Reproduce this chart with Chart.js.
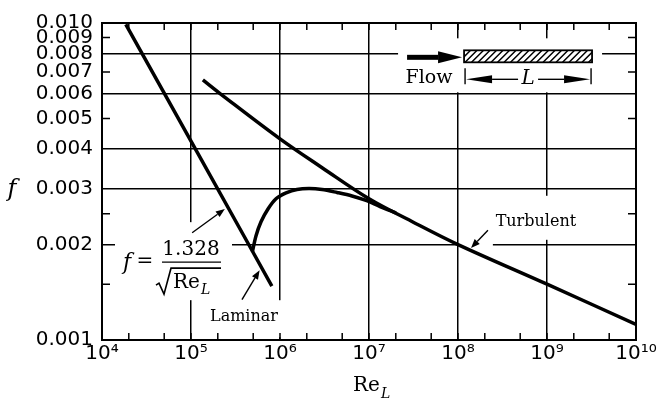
<!DOCTYPE html>
<html>
<head>
<meta charset="utf-8">
<script src="https://cdn.jsdelivr.net/npm/chart.js@4.4.0/dist/chart.umd.min.js"></script>
<style>
  html, body { margin: 0; padding: 0; background: #fff; }
  #wrap { width: 659px; height: 402px; }
</style>
</head>
<body>
<div id="wrap"><canvas id="chart" width="659" height="402"></canvas></div>
<script>
// --- Curves (Re_L, f) ---
const laminarRe = [1.85e4, 1e5, 4.5e5, 8.1e5];
const laminarF  = [0.0099, 0.00424, 0.00199, 0.00148];

const turbRe = [1.36e5, 2.12e5, 1e6, 3e6, 1e7, 3e7, 1e8, 1e9, 1e10];
const turbF  = [0.00661, 0.00599, 0.00431, 0.00349, 0.00279, 0.00237, 0.0020, 0.0015, 0.00112];

const transRe = [4.9e5, 5.37e5, 6.12e5, 7.33e5, 9.02e5, 1.17e6, 1.55e6, 2.12e6, 2.97e6, 4.37e6, 6.44e6, 9.25e6, 1.33e7, 2.01e7];
const transF  = [0.0019, 0.00213, 0.00236, 0.00259, 0.00279, 0.00291, 0.002985, 0.003006, 0.002985, 0.00292, 0.002847, 0.002755, 0.002637, 0.00252];

// --- Axes ---
const xTickValues = [1e4, 1e5, 1e6, 1e7, 1e8, 1e9, 1e10];
const xTickLabels = ['10\u2074', '10\u2075', '10\u2076', '10\u2077', '10\u2078', '10\u2079', '10\u00b9\u2070'];
const xMinorTicks = [2e4, 5e4, 2e5, 5e5, 2e6, 5e6, 2e7, 5e7, 2e8, 5e8, 2e9, 5e9];

const yTickValues = [0.001, 0.002, 0.003, 0.004, 0.005, 0.006, 0.007, 0.008, 0.009, 0.010];
const yTickLabels = ['0.001', '0.002', '0.003', '0.004', '0.005', '0.006', '0.007', '0.008', '0.009', '0.010'];
const yGridValues = [0.002, 0.003, 0.004, 0.006, 0.008, 0.010];
const yMinorTicks = [0.0015, 0.0025, 0.005, 0.007, 0.009];

// --- Annotation anchors (data units) ---
const formulaAt      = [1e5, 0.00176];
const laminarLabelAt = [3.94e5, 0.00118];
const turbLabelAt    = [7.5e8, 0.00236];
const plateAt        = [1.17e8, 0.0082];
const formulaArrow   = [[1.03e5, 0.00218], [2.4e5, 0.00259]];
const laminarArrow   = [[3.74e5, 0.00134], [5.9e5, 0.00166]];
const turbArrow      = [[2.17e8, 0.00222], [1.4e8, 0.00195]];

const serif = '"DejaVu Serif", serif';

function pts(xs, ys) {
  return xs.map((x, i) => ({ x: x, y: ys[i] }));
}

function P(chart, p) {
  return [chart.scales.x.getPixelForValue(p[0]), chart.scales.y.getPixelForValue(p[1])];
}

function arrow(ctx, tail, tip, len, half) {
  const a = Math.atan2(tip[1] - tail[1], tip[0] - tail[0]);
  const bx = tip[0] - len * Math.cos(a), by = tip[1] - len * Math.sin(a);
  ctx.beginPath();
  ctx.moveTo(tail[0], tail[1]);
  ctx.lineTo(bx, by);
  ctx.stroke();
  ctx.beginPath();
  ctx.moveTo(tip[0], tip[1]);
  ctx.lineTo(bx + half * Math.sin(a), by - half * Math.cos(a));
  ctx.lineTo(bx - half * Math.sin(a), by + half * Math.cos(a));
  ctx.closePath();
  ctx.fill();
}

// "Re" with an italic subscript L, starting at x
function reSubL(ctx, x, y, size, subSize, drop) {
  ctx.textAlign = 'left';
  ctx.textBaseline = 'alphabetic';
  ctx.font = size + 'px ' + serif;
  ctx.fillText('Re', x, y);
  const w = ctx.measureText('Re').width;
  ctx.font = 'italic ' + subSize + 'px ' + serif;
  ctx.fillText('L', x + w + 1, y + drop);
  return w + 1 + ctx.measureText('L').width;
}

// white patches the labels sit on (they hide the grid, not the curves)
function whiteBoxes(chart) {
  const f = P(chart, formulaAt), l = P(chart, laminarLabelAt);
  const t = P(chart, turbLabelAt), p = P(chart, plateAt);
  return [
    [f[0] - 76, f[1] - 40, f[0] + 41, f[1] + 38],
    [l[0] - 39, l[1] - 17, l[0] + 41, Math.min(l[1] + 20, chart.chartArea.bottom - 2)],
    [t[0] - 46, t[1] - 26, t[0] + 54, t[1] + 18],
    [t[0] - 75, t[1] + 14, t[0] - 43, t[1] + 30],
    [p[0] - 66, p[1] - 12, p[0] + 138, p[1] + 42]
  ];
}

const decor = {
  id: 'decor',
  beforeDatasetsDraw(chart) {
    const ctx = chart.ctx;
    ctx.save();
    ctx.fillStyle = '#fff';
    whiteBoxes(chart).forEach(b => ctx.fillRect(b[0], b[1], b[2] - b[0], b[3] - b[1]));
    ctx.restore();
  },
  afterDatasetsDraw(chart) {
    const ctx = chart.ctx;
    const area = chart.chartArea;
    const xs = chart.scales.x, ys = chart.scales.y;
    ctx.save();
    ctx.strokeStyle = '#000';
    ctx.fillStyle = '#000';

    // frame
    ctx.lineWidth = 2;
    ctx.strokeRect(area.left, area.top, area.right - area.left, area.bottom - area.top);

    // inward minor ticks
    ctx.lineWidth = 1.5;
    ctx.beginPath();
    xMinorTicks.concat(xTickValues).forEach(v => {
      const x = xs.getPixelForValue(v);
      ctx.moveTo(x, area.bottom); ctx.lineTo(x, area.bottom - 7);
      ctx.moveTo(x, area.top); ctx.lineTo(x, area.top + 7);
    });
    yMinorTicks.forEach(v => {
      const y = ys.getPixelForValue(v);
      ctx.moveTo(area.left, y); ctx.lineTo(area.left + 8, y);
      ctx.moveTo(area.right, y); ctx.lineTo(area.right - 8, y);
    });
    ctx.stroke();

    // formula f = 1.328 / sqrt(Re_L)
    const f = P(chart, formulaAt);
    ctx.textBaseline = 'middle';
    ctx.textAlign = 'center';
    ctx.font = 'italic 22px ' + serif;
    ctx.fillText('f', f[0] - 64, f[1] + 1);
    ctx.font = '20px ' + serif;
    ctx.fillText('=', f[0] - 46, f[1]);
    ctx.textBaseline = 'alphabetic';
    ctx.fillText('1.328', f[0], f[1] - 7);
    ctx.lineWidth = 1.4;
    ctx.beginPath();
    ctx.moveTo(f[0] - 29, f[1]); ctx.lineTo(f[0] + 30, f[1]);
    ctx.stroke();
    ctx.lineWidth = 1.6;
    ctx.beginPath();
    ctx.moveTo(f[0] - 35, f[1] + 23);
    ctx.lineTo(f[0] - 32, f[1] + 21);
    ctx.lineTo(f[0] - 27, f[1] + 32);
    ctx.lineTo(f[0] - 20, f[1] + 6);
    ctx.lineTo(f[0] + 30, f[1] + 6);
    ctx.stroke();
    reSubL(ctx, f[0] - 18, f[1] + 26, 20, 14, 6);

    // arrows to curves
    ctx.lineWidth = 1.4;
    [formulaArrow, laminarArrow, turbArrow].forEach(a => {
      arrow(ctx, P(chart, a[0]), P(chart, a[1]), 9, 3.5);
    });

    // labels
    ctx.textAlign = 'center';
    ctx.textBaseline = 'middle';
    ctx.font = '16px ' + serif;
    const l = P(chart, laminarLabelAt);
    ctx.fillText('Laminar', l[0], l[1]);
    const t = P(chart, turbLabelAt);
    ctx.fillText('Turbulent', t[0], t[1]);

    // flow sketch: arrow, hatched plate, length L
    const p = P(chart, plateAt);
    const pw = 128, ph = 12;
    ctx.lineWidth = 5;
    arrow(ctx, [p[0] - 57, p[1] + 7], [p[0] - 2, p[1] + 7], 24, 6);
    ctx.save();
    ctx.beginPath();
    ctx.rect(p[0], p[1], pw, ph);
    ctx.clip();
    ctx.lineWidth = 1.5;
    ctx.beginPath();
    for (let k = -ph; k < pw + ph; k += 6.5) {
      ctx.moveTo(p[0] + k, p[1] + ph);
      ctx.lineTo(p[0] + k + ph, p[1]);
    }
    ctx.stroke();
    ctx.restore();
    ctx.lineWidth = 1.8;
    ctx.strokeRect(p[0], p[1], pw, ph);
    ctx.lineWidth = 1.4;
    ctx.beginPath();
    ctx.moveTo(p[0] + 1, p[1] + 18); ctx.lineTo(p[0] + 1, p[1] + 34);
    ctx.moveTo(p[0] + pw - 1, p[1] + 18); ctx.lineTo(p[0] + pw - 1, p[1] + 34);
    ctx.stroke();
    arrow(ctx, [p[0] + 54, p[1] + 29], [p[0] + 2, p[1] + 29], 26, 4);
    arrow(ctx, [p[0] + 74, p[1] + 29], [p[0] + pw - 2, p[1] + 29], 26, 4);
    ctx.font = 'italic 20px ' + serif;
    ctx.fillText('L', p[0] + 64, p[1] + 28);
    ctx.font = '19px ' + serif;
    ctx.fillText('Flow', p[0] - 35, p[1] + 28);
    ctx.restore();
  },
  afterDraw(chart) {
    const ctx = chart.ctx;
    const area = chart.chartArea;
    ctx.save();
    ctx.fillStyle = '#000';
    ctx.textBaseline = 'alphabetic';
    ctx.textAlign = 'center';
    ctx.font = 'italic 24px ' + serif;
    ctx.fillText('f', area.left - 90, 196);
    const cx = (area.left + area.right) / 2;
    reSubL(ctx, cx - 16, 391, 20, 14, 7);
    ctx.restore();
  }
};

const lineStyle = {
  borderColor: '#000',
  borderWidth: 3.5,
  pointRadius: 0,
  fill: false,
  showLine: true,
  borderCapStyle: 'butt',
  borderJoinStyle: 'round'
};

new Chart(document.getElementById('chart'), {
  type: 'scatter',
  data: {
    datasets: [
      Object.assign({ label: 'Laminar', data: pts(laminarRe, laminarF), tension: 0 }, lineStyle),
      Object.assign({ label: 'Turbulent', data: pts(turbRe, turbF), tension: 0.35 }, lineStyle),
      Object.assign({ label: 'Transition', data: pts(transRe, transF), tension: 0.3 }, lineStyle)
    ]
  },
  options: {
    responsive: false,
    devicePixelRatio: 1,
    animation: false,
    layout: { padding: { left: 0, right: 23, top: 23, bottom: 0 } },
    plugins: { legend: { display: false }, tooltip: { enabled: false } },
    scales: {
      x: {
        type: 'logarithmic',
        min: 1e4,
        max: 1e10,
        afterBuildTicks: s => { s.ticks = xTickValues.map(v => ({ value: v })); },
        afterFit: s => { s.height = 62; },
        grid: { color: '#000', lineWidth: 1.5, drawTicks: false },
        border: { color: '#000', width: 2 },
        ticks: {
          autoSkip: false,
          maxRotation: 0,
          padding: 2,
          color: '#000',
          font: { family: '"DejaVu Sans", sans-serif', size: 20 },
          callback: (v, i) => xTickLabels[i]
        }
      },
      y: {
        type: 'logarithmic',
        min: 0.001,
        max: 0.010,
        afterBuildTicks: s => { s.ticks = yTickValues.map(v => ({ value: v })); },
        afterFit: s => { s.width = 102; },
        grid: {
          color: c => (c.tick && yGridValues.includes(c.tick.value)) ? '#000' : 'rgba(0,0,0,0)',
          lineWidth: 1.5,
          drawTicks: false
        },
        border: { color: '#000', width: 2 },
        ticks: {
          autoSkip: false,
          padding: 9,
          color: '#000',
          font: { family: '"DejaVu Sans", sans-serif', size: 20 },
          callback: (v, i) => yTickLabels[i]
        }
      }
    }
  },
  plugins: [decor]
});
</script>
</body>
</html>
